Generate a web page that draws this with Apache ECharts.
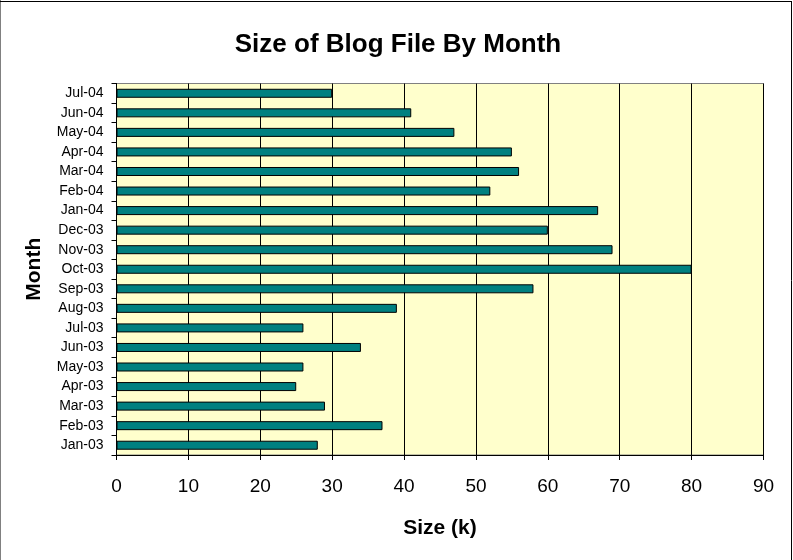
<!DOCTYPE html>
<html>
<head>
<meta charset="utf-8">
<script src="https://cdn.jsdelivr.net/npm/echarts@6/dist/echarts.min.js"></script>
<style>html,body{margin:0;padding:0;background:#fff;}#c{width:793px;height:560px;}</style>
</head>
<body>
<div id="c"></div>
<script>
const months = ['Jan-03','Feb-03','Mar-03','Apr-03','May-03','Jun-03','Jul-03','Aug-03','Sep-03','Oct-03','Nov-03','Dec-03','Jan-04','Feb-04','Mar-04','Apr-04','May-04','Jun-04','Jul-04'];
const sizes = [28,37,29,25,26,34,26,39,58,80,69,60,67,52,56,55,47,41,30];
const xTicks = {min:0, max:90, interval:10};

const chart = echarts.init(document.getElementById('c'), null, {renderer:'canvas'});
const font = 'Liberation Sans, Arial, sans-serif';
chart.setOption({
  animation:false,
  backgroundColor:'#ffffff',
  title:{
    text:'Size of Blog File By Month',
    left:393, top:40, textAlign:'center', textVerticalAlign:'middle',
    textStyle:{fontFamily:font, fontSize:26, fontWeight:'bold', color:'#000'}
  },
  grid:{
    left:116.5, right:29.5, top:83.5, bottom:105,
    show:true, backgroundColor:'#FFFFCC', borderColor:'#808080', borderWidth:1
  },
  xAxis:{
    type:'value', min:xTicks.min, max:xTicks.max, interval:xTicks.interval,
    name:'Size (k)', nameLocation:'middle', nameGap:63,
    nameTextStyle:{fontFamily:font, fontSize:21, fontWeight:'bold', color:'#000'},
    axisLine:{show:true, lineStyle:{color:'#000', width:1}},
    axisTick:{show:true, length:5, lineStyle:{color:'#000'}},
    axisLabel:{fontFamily:font, fontSize:19, color:'#000', margin:22},
    splitLine:{show:true, lineStyle:{color:'#000', width:1}}
  },
  yAxis:{
    type:'category', data:months,
    name:'Month', nameLocation:'middle', nameGap:72, nameRotate:90,
    nameTextStyle:{fontFamily:font, fontSize:21, fontWeight:'bold', color:'#000'},
    axisLine:{show:true, lineStyle:{color:'#000', width:1}},
    axisTick:{show:true, length:5, alignWithLabel:false, lineStyle:{color:'#000'}},
    axisLabel:{fontFamily:font, fontSize:14, color:'#000', margin:13},
    splitLine:{show:false}
  },
  series:[{
    type:'bar', data:sizes, barWidth:9,
    itemStyle:{color:'#008080', borderColor:'#000', borderWidth:1}
  }],
  graphic:[
    {type:'line', shape:{x1:0.5,y1:0,x2:0.5,y2:560}, style:{stroke:'#808080', lineWidth:1}},
    {type:'line', shape:{x1:0,y1:1.5,x2:792,y2:1.5}, style:{stroke:'#000', lineWidth:1}},
    {type:'line', shape:{x1:791.5,y1:1,x2:791.5,y2:560}, style:{stroke:'#000', lineWidth:1}}
  ]
});
</script>
</body>
</html>
